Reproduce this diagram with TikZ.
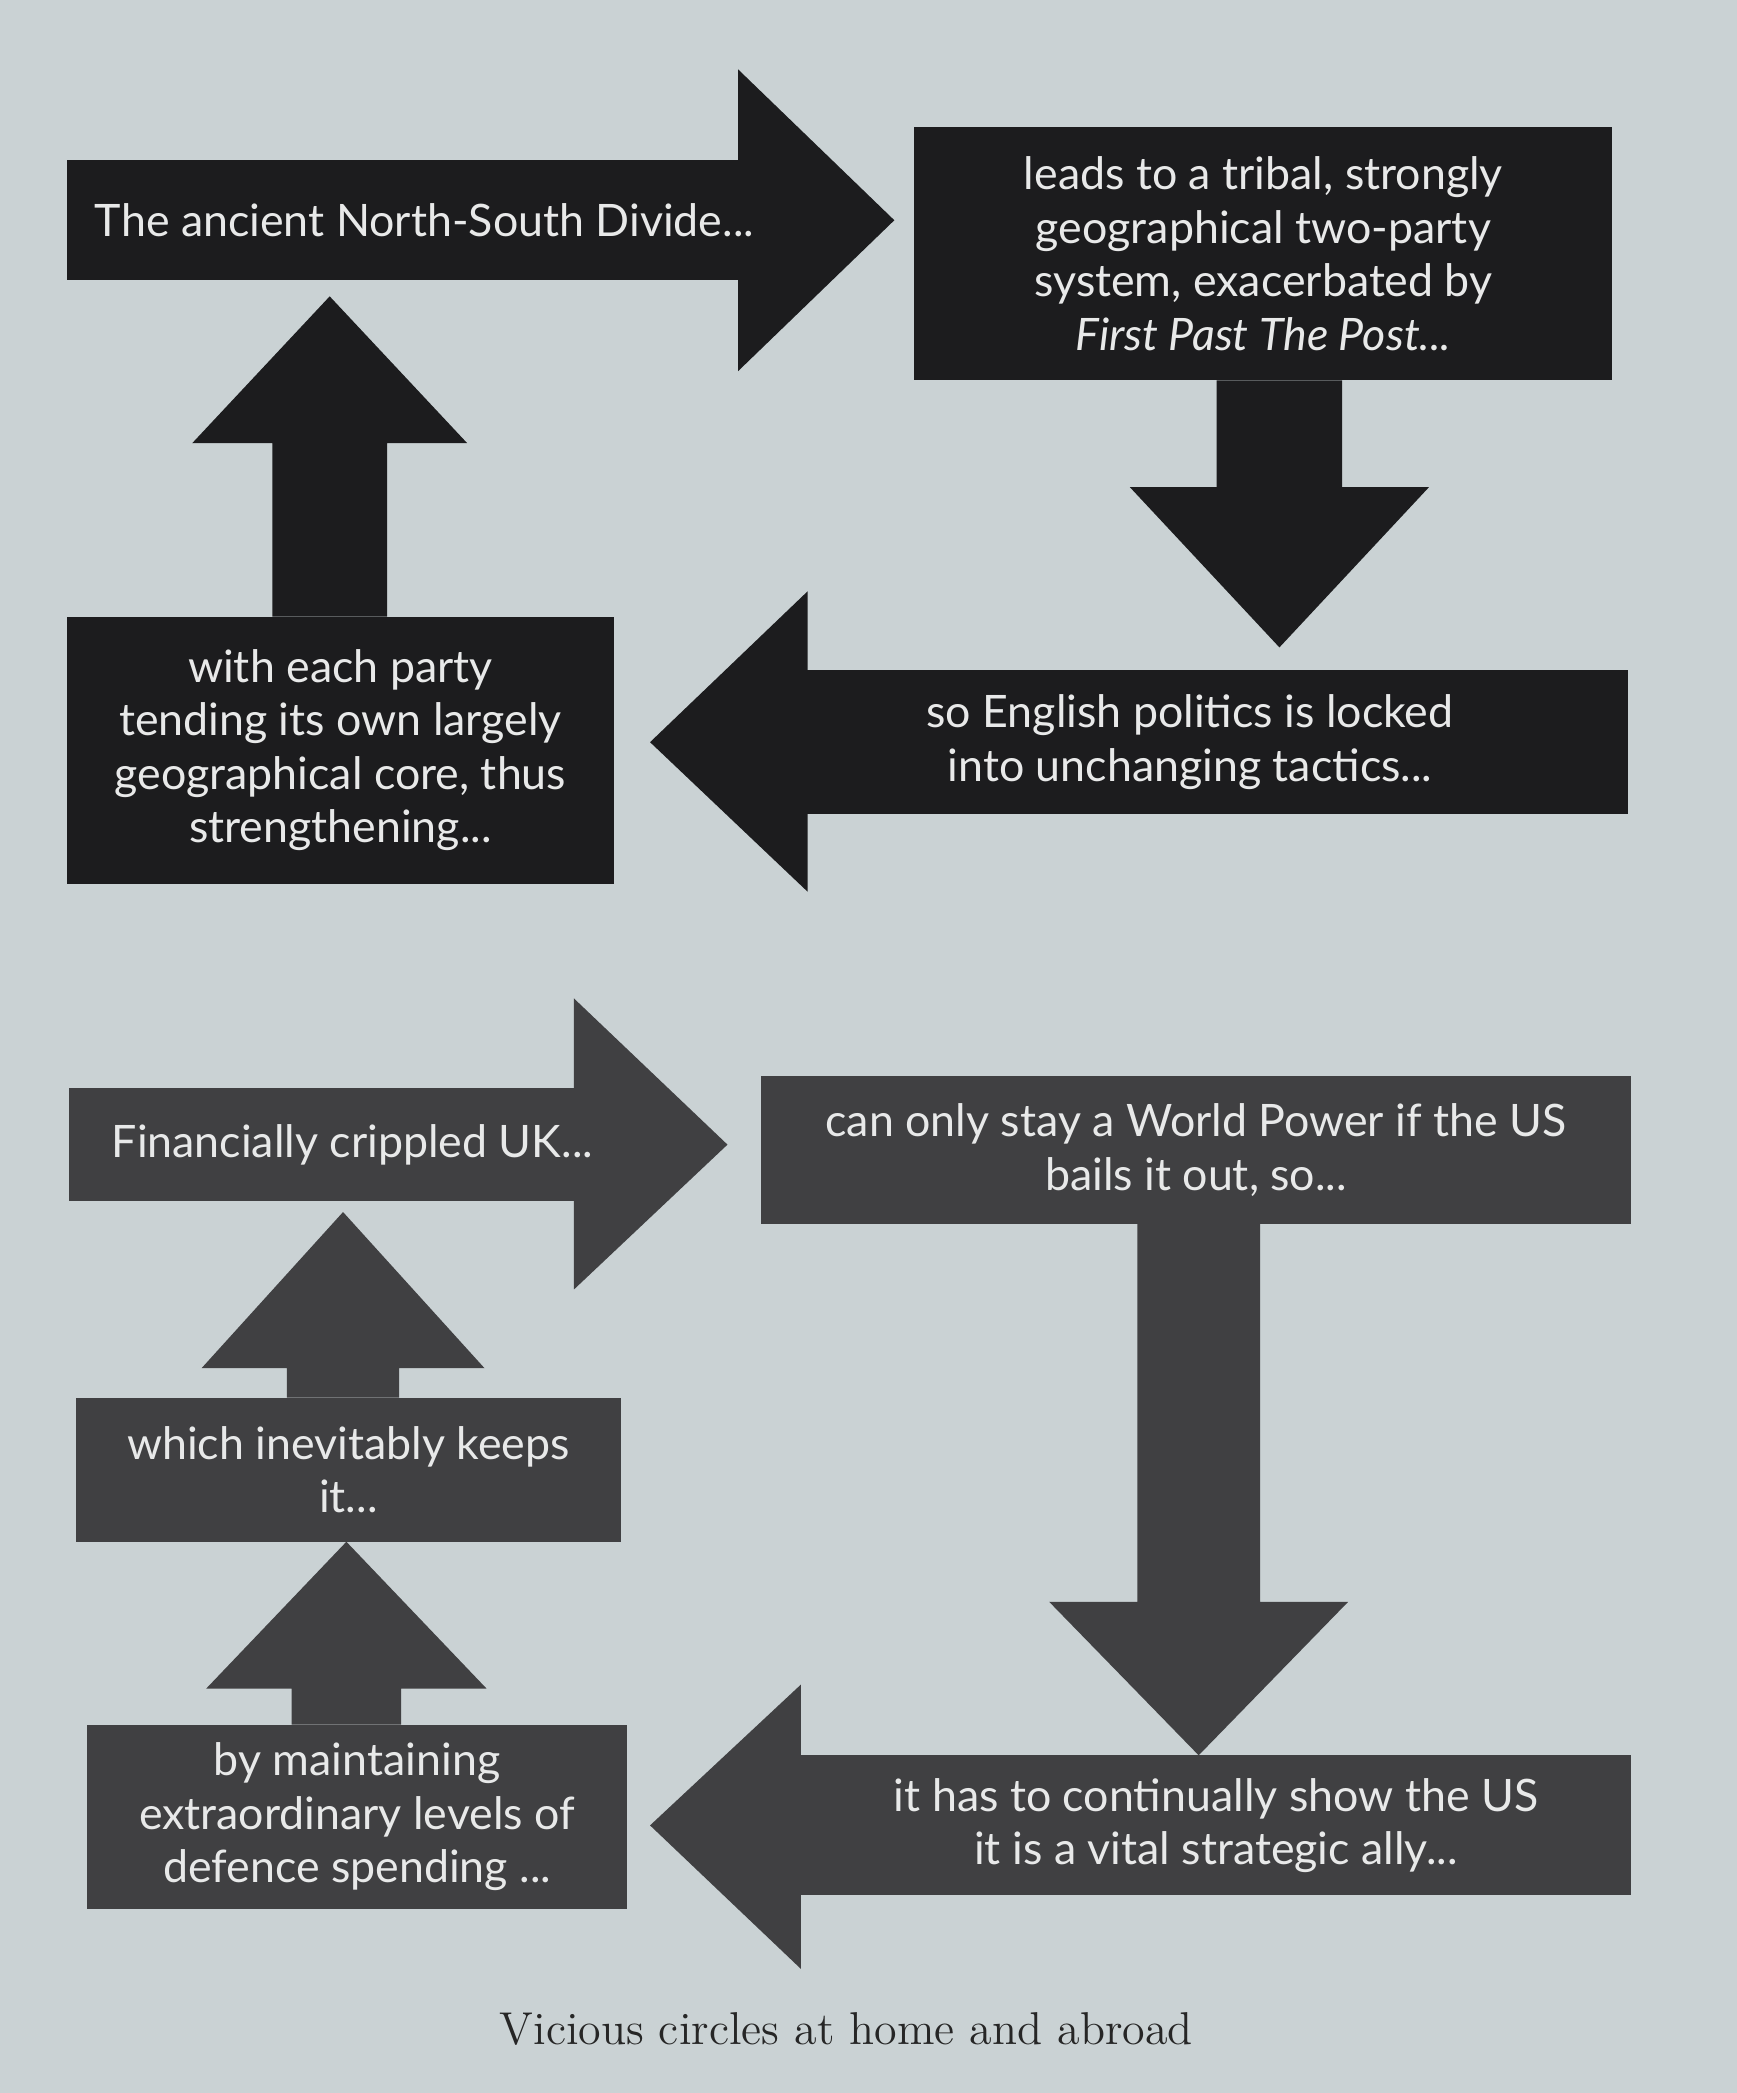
\documentclass[tikz,border=0pt]{standalone}
\usepackage{fontspec}
\newfontfamily\boxfont{Lato}
\usetikzlibrary{calc,backgrounds}

\definecolor{paper}{RGB}{202,210,212}
\definecolor{ink}{RGB}{28,28,30}
\definecolor{inkgrey}{RGB}{64,64,66}
\definecolor{lbltext}{RGB}{232,233,233}

% vertical block connector: style, start, tip, shaft half, head half, head length (+ up, - down)
\newcommand{\blockconn}[6]{%
  \fill[#1] ($(#2)+(-#4,0)$) -- ($(#3)+(-#4,#6)$) -- ($(#3)+(-#5,#6)$) -- (#3)
    -- ($(#3)+(#5,#6)$) -- ($(#3)+(#4,#6)$) -- ($(#2)+(#4,0)$) -- cycle;
}

\begin{document}
\begin{tikzpicture}[x=0.4pt, y=-0.4pt,
    box/.style={rectangle, inner sep=0pt, outer sep=0pt, align=center, text=lbltext,
                font=\boxfont\fontsize{13.4}{16}\selectfont},
    size/.style 2 args={minimum width=#1*0.4pt, minimum height=#2*0.4pt},
    top/.style={box, fill=ink},
    low/.style={box, fill=inkgrey},
    caption/.style={font=\fontsize{13.8}{16}\selectfont, text=black!85}
]
    \useasboundingbox (0,0) rectangle (1301,1568);

    % home: the first circle
    \node[top, size={536}{90}] (a1) at (318,165) {The ancient North-South Divide...};
    \node[top, size={523}{190}] (b2) at (946.5,190) {leads to a tribal, strongly\\ geographical two-party\\ system, exacerbated by\\ \textit{First Past The Post...}};
    \node[top, size={657}{108}] (a3) at (891.5,556) {so English politics is locked\\ into unchanging tactics...};
    \node[top, size={410}{200}] (b4) at (255,562) {with each party\\ tending its own largely\\ geographical core, thus\\ strengthening...};

    % abroad: the second circle
    \node[low, size={424}{85}] (a5) at (264,857.5) {Financially crippled UK...};
    \node[low, size={652}{111}] (b6) at (896,861.5) {can only stay a World Power if the US\\ bails it out, so...};
    \node[low, size={622}{105}] (a7) at (911,1367.5) {it has to continually show the US\\ it is a vital strategic ally...};
    \node[low, size={405}{138}] (b8) at (267.5,1361) {by maintaining\\ extraordinary levels of\\ defence spending ...};
    \node[low, size={408}{108}] (b9) at (261,1101) {which inevitably keeps\\ it...};

    \node[caption] (cap) at (634,1520) {Vicious circles at home and abroad};

    \begin{pgfonlayer}{background}
    \fill[paper] (0,0) rectangle (1301,1568);

    % heads (the body runs a little way under each head)
    \fill[ink] ($(a1.north east)+(-33,-68)$) -- ($(a1.east)+(84,0)$) -- ($(a1.south east)+(-33,68)$) -- cycle;
    \fill[ink] ($(a3.north west)+(42,-59)$) -- ($(a3.west)+(-76,0)$) -- ($(a3.south west)+(42,58)$) -- cycle;
    \fill[inkgrey] ($(a5.north east)+(-46,-67)$) -- ($(a5.east)+(69,0)$) -- ($(a5.south east)+(-46,66)$) -- cycle;
    \fill[inkgrey] ($(a7.north west)+(0,-53)$) -- ($(a7.west)+(-113,0)$) -- ($(a7.south west)+(0,55)$) -- cycle;

    % connectors
    \coordinate (d1s) at ($(b2.south)+(12,0)$);
    \coordinate (d1t) at ($(d1s |- a3.north)+(0,-17)$);
    \blockconn{ink}{d1s}{d1t}{47}{112}{-120}
    \coordinate (u1s) at ($(b4.north)+(-8,0)$);
    \coordinate (u1t) at ($(u1s |- a1.south)+(0,12)$);
    \blockconn{ink}{u1s}{u1t}{43}{103}{110}

    \coordinate (d2s) at ($(b6.south)+(2,0)$);
    \coordinate (d2t) at (d2s |- a7.north);
    \blockconn{inkgrey}{d2s}{d2t}{46}{112}{-115}
    \coordinate (u3s) at ($(b8.north)+(-8,0)$);
    \coordinate (u3t) at (u3s |- b9.south);
    \blockconn{inkgrey}{u3s}{u3t}{41}{105}{110}
    \coordinate (u2s) at ($(b9.north)+(-4,0)$);
    \coordinate (u2t) at ($(u2s |- a5.south)+(0,8)$);
    \blockconn{inkgrey}{u2s}{u2t}{42}{106}{117}
    \end{pgfonlayer}
\end{tikzpicture}
\end{document}
